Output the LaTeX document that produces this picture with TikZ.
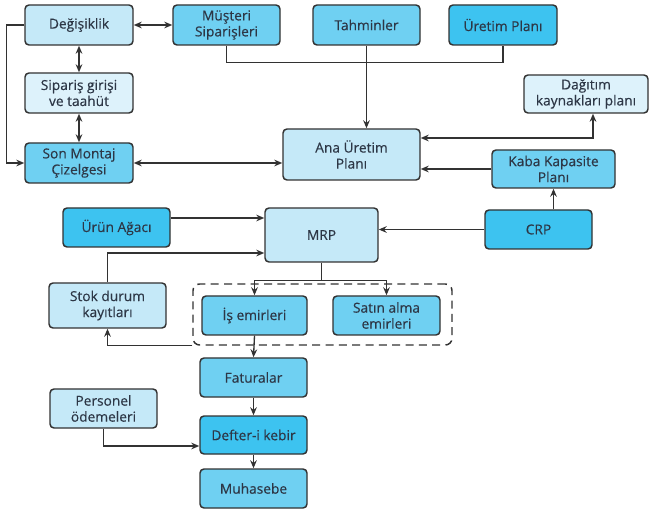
\documentclass[tikz,border=0pt]{standalone}
\usepackage{fontspec}
\setmainfont{Open Sans}[FakeBold=0.4]
\usetikzlibrary{arrows.meta,positioning,calc,fit}
\definecolor{mrpdark}{RGB}{50,50,50}
\definecolor{mrptext}{RGB}{45,55,70}
\definecolor{mrppale}{RGB}{221,242,251}
\definecolor{mrplight}{RGB}{197,233,248}
\definecolor{mrpmid}{RGB}{111,208,242}
\definecolor{mrpbright}{RGB}{61,195,240}

\begin{document}
\begin{tikzpicture}[
    x=0.75pt, y=-0.75pt,
    block/.style={rectangle, rounded corners=3pt, draw=mrpdark, line width=1.1pt, align=center,
        text=mrptext, font=\fontsize{10.3}{12}\selectfont, minimum width=107*0.75pt, minimum height=39*0.75pt, inner sep=1pt},
    arrow/.style={-{Stealth[length=6pt,width=5pt]}, draw=mrpdark, line width=1pt},
    biarrow/.style={{Stealth[length=6pt,width=5pt]}-{Stealth[length=6pt,width=5pt]}, draw=mrpdark, line width=1pt},
    line/.style={draw=mrpdark, line width=1pt}
]
\useasboundingbox (0,0) rectangle (650,513);

% Top row
\node[block, fill=mrplight, minimum width=108*0.75pt, minimum height=40*0.75pt] (degis) at (79,25) {Değişiklik};
\node[block, fill=mrpmid, minimum height=40*0.75pt] (musteri) at (226.5,25) {Müşteri\\Siparişleri};
\node[block, fill=mrpmid, minimum height=40*0.75pt] (tahmin) at (366.5,25) {Tahminler};
\node[block, fill=mrpbright, minimum width=108*0.75pt, minimum height=40*0.75pt] (uretim) at (503,25) {Üretim Planı};

% Left column
\node[block, fill=mrppale, minimum width=108*0.75pt, minimum height=40*0.75pt] (siparis) at (79,93) {Sipariş girişi\\ve taahüt};
\node[block, fill=mrpmid, minimum width=108*0.75pt, minimum height=40*0.75pt] (sonmontaj) at (79,163) {Son Montaj\\Çizelgesi};

% Master plan
\node[block, fill=mrplight, minimum width=137*0.75pt, minimum height=51*0.75pt] (ana) at (351.5,154.5) {Ana Üretim\\Planı};
\node[block, fill=mrppale, minimum width=124*0.75pt, minimum height=38*0.75pt] (dagitim) at (586,94) {Dağıtım\\kaynakları planı};
\node[block, fill=mrpmid, minimum width=123*0.75pt, minimum height=38*0.75pt] (kaba) at (553.5,169) {Kaba Kapasite\\Planı};

% MRP level
\node[block, fill=mrpbright] (urun) at (116.5,227.5) {Ürün Ağacı};
\node[block, fill=mrplight, minimum width=113*0.75pt, minimum height=54*0.75pt] (mrp) at (321.5,235) {MRP};
\node[block, fill=mrpbright] (crp) at (538.5,229.5) {CRP};
\node[block, fill=mrplight, minimum width=117*0.75pt, minimum height=45*0.75pt] (stok) at (107.5,305.5) {Stok durum\\kayıtları};
\node[block, fill=mrpmid, minimum width=105*0.75pt] (is) at (254.5,315.5) {İş emirleri};
\node[block, fill=mrpmid] (satin) at (386.5,315.5) {Satın alma\\emirleri};
\node[draw=mrpdark, line width=1.1pt, dash pattern=on 6pt off 4pt, rounded corners=5pt, inner sep=0pt,
    fit={(193,284) (452,345)}] (grp) {};

% Accounting
\node[block, fill=mrpmid] (fatura) at (253.5,377.5) {Faturalar};
\node[block, fill=mrpbright, minimum height=38*0.75pt] (defter) at (253.5,435) {Defter-i kebir};
\node[block, fill=mrpmid] (muhasebe) at (253.5,488.5) {Muhasebe};
\node[block, fill=mrplight] (personel) at (103.5,408.5) {Personel\\ödemeleri};

% Connectors, top part
\draw[biarrow] (degis.east) -- (musteri.west);
\draw[biarrow] (degis.south) -- (siparis.north);
\draw[biarrow] (siparis.south) -- (sonmontaj.north);
\draw[arrow] (degis.west) -- ++(-18,0) |- (sonmontaj.west);
\draw[biarrow] (sonmontaj.east) -- (sonmontaj.east -| ana.west);
\draw[line] (musteri.south) -- ++(0,17) -| (uretim.south);
\draw[arrow] (tahmin.south) -- (tahmin.south |- ana.north);
\draw[biarrow] ($(ana.east)+(0,-16.5)$) -| ($(dagitim.south)+(7,0)$);
\draw[arrow] (kaba.west) -- (kaba.west -| ana.east);
\draw[arrow] (crp.north -| kaba.south) -- (kaba.south);

% Connectors, MRP part
\draw[arrow] (crp.west) -- (crp.west -| mrp.east);
\coordinate (bomout) at ($(urun.east)+(0,-9.5)$);
\draw[arrow] (bomout) -- (bomout -| mrp.west);
\draw[arrow] (stok.north) |- ($(mrp.west)+(0,18)$);
\draw[line] (mrp.south) -- ++(0,18) coordinate (split);
\draw[arrow] (split) -| (is.north);
\draw[arrow] (split) -| (satin.north);
\draw[arrow] (grp.south west) -| (stok.south);

% Connectors, accounting
\draw[arrow] (is.south) -- (fatura.north);
\draw[arrow] (fatura.south) -- (defter.north);
\draw[arrow] (defter.south) -- (muhasebe.north);
\draw[arrow] (personel.south) |- ($(defter.west)+(0,11)$);

\end{tikzpicture}
\end{document}
